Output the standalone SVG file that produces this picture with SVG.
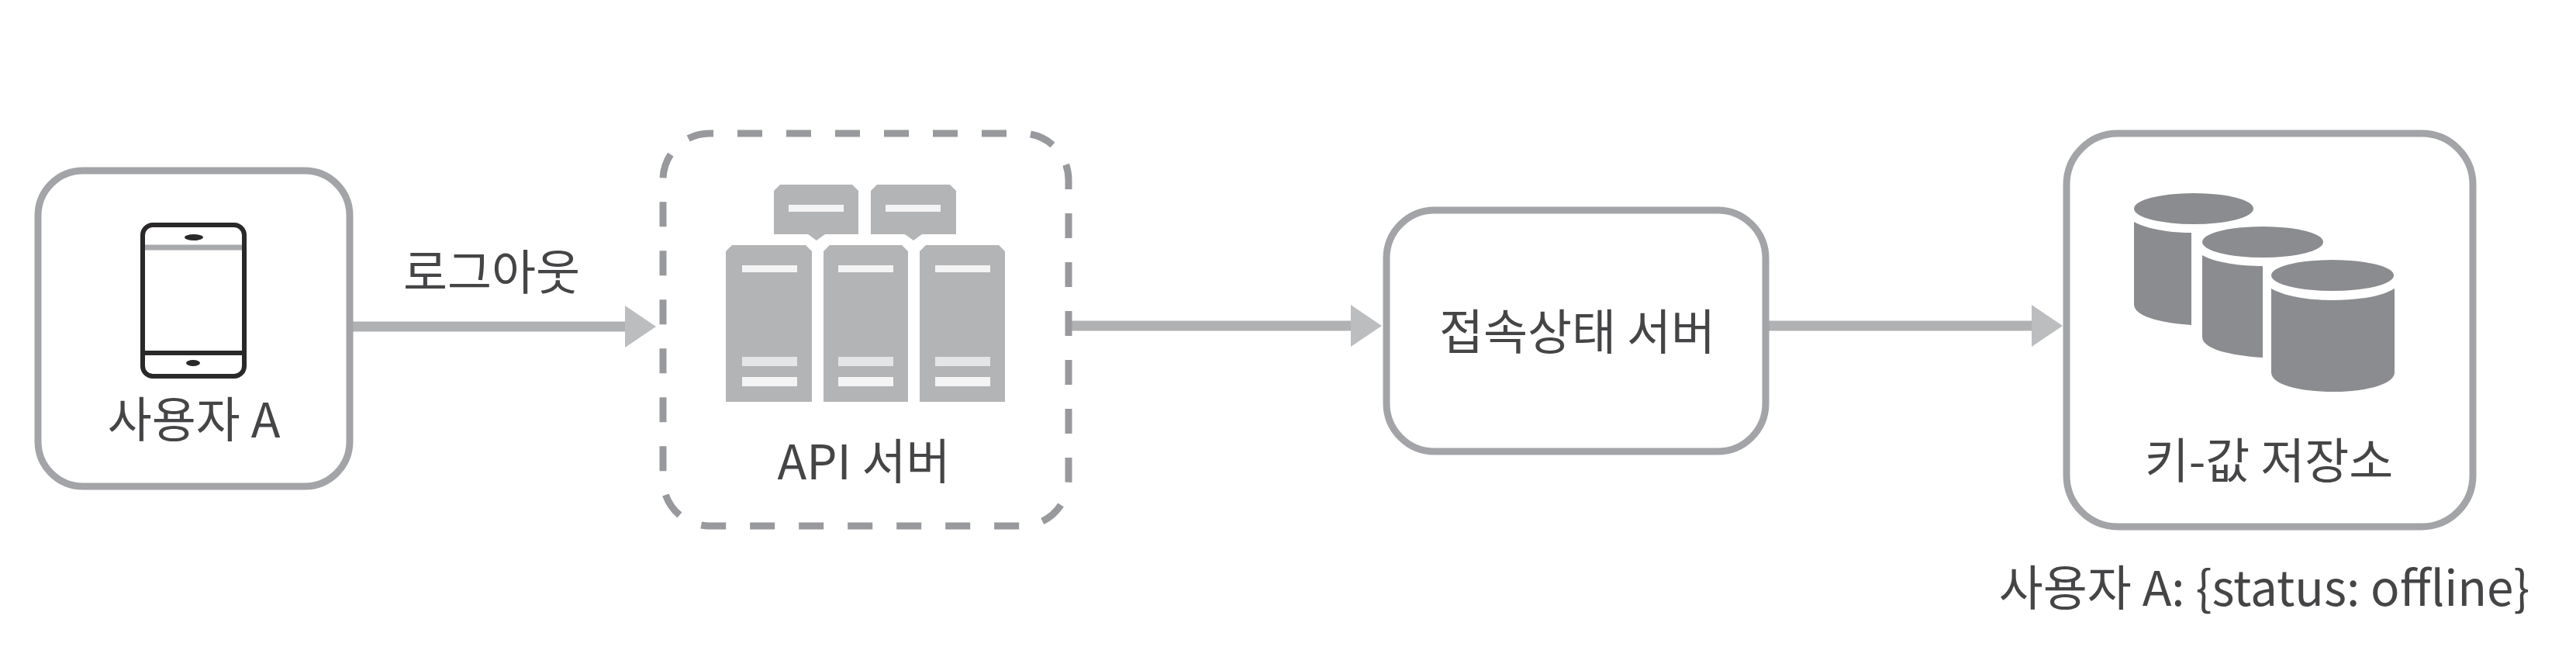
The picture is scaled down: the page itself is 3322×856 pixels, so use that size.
<svg xmlns="http://www.w3.org/2000/svg" width="3322" height="856" viewBox="0 0 3322 856">
<style>
text{font-family:"Noto Sans CJK KR","Noto Sans",sans-serif;font-size:62px;fill:#454547;text-anchor:middle}
.box{fill:#fff;stroke:#a2a4a7;stroke-width:9}
.dash{fill:#fff;stroke:#97999c;stroke-width:9;stroke-dasharray:32 31;stroke-dashoffset:-36}
.srv{fill:#b2b4b6}
.w{fill:#f4f4f4}
.l{fill:#e4e5e6}
.db{fill:#8a8c8f}
.link{stroke:#afb1b3;stroke-width:13;fill:none;marker-end:url(#head)}
</style>
<defs>
<marker id="head" markerUnits="userSpaceOnUse" markerWidth="42" markerHeight="54" refX="0" refY="27" orient="auto"><path d="M0 0L40 27L0 54Z" fill="#bbbdbf"/></marker>
</defs>
<rect width="3322" height="856" fill="#fff"/>
<g id="connectors">
<path class="link" d="M451 421H806"/>
<path class="link" d="M1378 420H1742"/>
<path class="link" d="M2277 420H2620"/>
</g>
<text id="label-logout" x="634" y="374">로그아웃</text>
<g id="user-a">
<rect class="box" x="49" y="220" width="402" height="407" rx="58"/>
<path d="M182 319H317" stroke="#a7a9ac" stroke-width="7" fill="none"/>
<rect x="184" y="290" width="131" height="195" rx="13" fill="none" stroke="#2a2829" stroke-width="6"/>
<path d="M184 455H315" stroke="#2a2829" stroke-width="6" fill="none"/>
<ellipse cx="250" cy="306" rx="12" ry="4" fill="#2a2829"/>
<ellipse cx="249" cy="468" rx="9" ry="4" fill="#2a2829"/>
<text x="250" y="564">사용자 A</text>
</g>
<g id="api-server">
<rect class="dash" x="855" y="172" width="523" height="506" rx="60"/>
<path class="srv" d="M1006 238H1099L1107 246V302H1064L1053 310L1042 302H998V246Z"/>
<path class="srv" d="M1131 238H1225L1233 246V302H1189L1178 310L1167 302H1123V246Z"/>
<rect class="w" x="1017" y="264" width="71" height="9"/>
<rect class="w" x="1142" y="264" width="71" height="9"/>
<g id="rack-1">
<path class="srv" d="M944 316H1039L1047 324V518H936V324Z"/>
<rect class="w" x="957" y="342" width="71" height="9"/>
<rect class="l" x="957" y="460" width="71" height="12"/>
<rect class="w" x="957" y="486" width="71" height="12"/>
</g>
<g id="rack-2">
<path class="srv" d="M1070 316H1163L1171 324V518H1062V324Z"/>
<rect class="w" x="1081" y="342" width="71" height="9"/>
<rect class="l" x="1081" y="460" width="71" height="12"/>
<rect class="w" x="1081" y="486" width="71" height="12"/>
</g>
<g id="rack-3">
<path class="srv" d="M1194 316H1288L1296 324V518H1186V324Z"/>
<rect class="w" x="1206" y="342" width="71" height="9"/>
<rect class="l" x="1206" y="460" width="71" height="12"/>
<rect class="w" x="1206" y="486" width="71" height="12"/>
</g>
<text x="1114" y="618">API 서버</text>
</g>
<g id="presence-server">
<rect class="box" x="1788" y="271" width="489" height="311" rx="62"/>
<text x="2034" y="451">접속상태 서버</text>
</g>
<g id="kv-store">
<rect class="box" x="2665" y="172" width="524" height="507" rx="66"/>
<g id="db-1">
<ellipse class="db" cx="2829" cy="269" rx="77" ry="20"/>
<path class="db" d="M2752 286C2770 296 2800 300 2826 300V419C2785 416 2752 408 2752 392Z"/>
</g>
<g id="db-2">
<ellipse class="db" cx="2918" cy="312" rx="78" ry="20"/>
<path class="db" d="M2840 329C2858 339 2890 343 2918 343V461C2875 458 2840 450 2840 434Z"/>
</g>
<g id="db-3">
<ellipse class="db" cx="3008" cy="355" rx="79" ry="20"/>
<path class="db" d="M2929 372C2950 384 2985 387 3008 387C3035 387 3068 384 3088 372V480C3088 496 3050 505 3008 505C2966 505 2929 496 2929 480Z"/>
</g>
<text x="2926" y="617">키-값 저장소</text>
</g>
<text id="status-note" x="2920" y="781">사용자 A: {status: offline}</text>
</svg>
